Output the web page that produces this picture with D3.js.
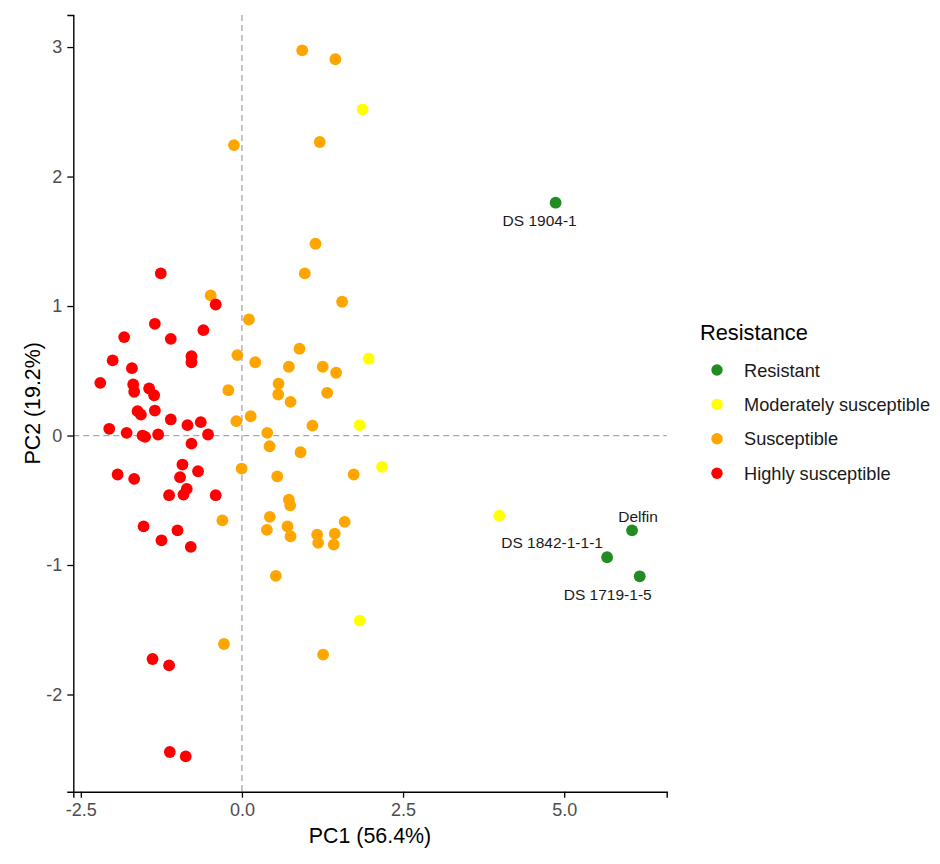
<!DOCTYPE html>
<html lang="en">
  <meta charset="utf-8">
  <title>PCA - Resistance</title>

  <style>
  body {
    margin: 0px;
    background: white;
  }
  #chartDiv {
    position: absolute;
    left: 0px;
    top: 0px;
    width: 940px;
    height: 864px;
  }
  text {
    font-family: "Liberation Sans", Arial, sans-serif;
  }
  </style>

  <body>
  <div id="chartDiv"></div>

    <script src="https://cdn.jsdelivr.net/npm/d3@7"></script>

    <script>
      // Resistance classes, in legend order, with their colours.
      var groups = ["Resistant", "Moderately susceptible", "Susceptible", "Highly susceptible"];
      var groupColors = ["#228B22", "#FFFF00", "#FFA500", "#FF0000"];

      // Scores: [PC1, PC2]
      var resistant = [[4.867, 1.798], [6.053, -0.732], [5.666, -0.940], [6.172, -1.087]];
      var resistantNames = ["DS 1904-1", "Delfin", "DS 1842-1-1-1", "DS 1719-1-5"];

      var moderate = [[1.873, 2.519], [1.966, 0.593], [1.827, 0.080], [2.173, -0.242],
        [1.827, -1.430], [3.994, -0.618]];

      var susceptible = [[-0.485, 1.082], [0.108, 0.896], [-0.071, 0.621], [0.207, 0.566],
        [0.893, 0.670], [0.728, 0.531], [-0.211, 0.350], [0.568, 0.400], [0.563, 0.317],
        [0.754, 0.260], [-0.087, 0.111], [0.135, 0.149], [1.094, 0.077], [0.393, 0.021],
        [0.429, -0.083], [0.909, -0.129], [-0.005, -0.255], [0.548, -0.315], [0.728, -0.495],
        [0.749, -0.539], [-0.303, -0.655], [0.433, -0.628], [0.387, -0.729], [0.707, -0.701],
        [0.754, -0.778], [0.526, -1.084], [1.554, 1.033], [1.254, 0.531], [1.461, 0.485],
        [1.322, 0.330], [1.734, -0.301], [1.594, -0.667], [1.167, -0.765], [1.183, -0.829],
        [1.440, -0.757], [1.424, -0.842], [0.935, 2.975], [1.450, 2.906], [-0.124, 2.243],
        [1.207, 2.267], [1.141, 1.481], [0.975, 1.252], [-0.279, -1.610], [1.260, -1.692]];

      var highly = [[-1.259, 1.252], [-0.407, 1.012], [-1.351, 0.863], [-1.827, 0.760],
        [-1.104, 0.747], [-0.598, 0.814], [-2.006, 0.580], [-0.783, 0.613], [-0.783, 0.566],
        [-1.707, 0.520], [-2.198, 0.407], [-1.687, 0.394], [-1.672, 0.338], [-1.440, 0.363],
        [-1.362, 0.311], [-1.619, 0.188], [-1.568, 0.162], [-1.351, 0.193], [-1.104, 0.124],
        [-0.845, 0.080], [-0.639, 0.103], [-2.059, 0.052], [-1.789, 0.021], [-1.542, 0.000],
        [-1.502, -0.010], [-1.300, 0.008], [-0.526, 0.008], [-0.783, -0.062], [-0.923, -0.224],
        [-0.681, -0.276], [-1.929, -0.301], [-1.672, -0.335], [-0.960, -0.322], [-0.856, -0.412],
        [-0.907, -0.456], [-1.130, -0.461], [-0.407, -0.461], [-1.526, -0.701], [-1.000, -0.732],
        [-1.248, -0.809], [-0.794, -0.860], [-1.387, -1.726], [-1.130, -1.775], [-1.119, -2.444],
        [-0.872, -2.478]];

      var xTicks = [-2.5, 0, 2.5, 5];
      var yTicks = [-2, -1, 0, 1, 2, 3];
      var xTitle = "PC1 (56.4%)";
      var yTitle = "PC2 (19.2%)";
      var legendTitle = "Resistance";

      // Label placement next to the named points (pixels, like ggrepel left them).
      var labelNudge = [[-16, 23], [6, -8], [-55, -9], [-32, 24]];

      // Build the rows in the order ggplot draws them.
      var series = [resistant, moderate, susceptible, highly];
      var points = [];
      series.forEach(function(s, gi) {
        s.forEach(function(p) { points.push({ x: p[0], y: p[1], g: gi }); });
      });

      var svg = d3.select("#chartDiv").append("svg")
        .attr("width", 940).attr("height", 864);

      // Plot panel edges (window.top is taken, so prefix these).
      var panelLeft = 73.3, panelRight = 666.7, panelTop = 15, panelBottom = 791.7;

      // 5% expansion like ggplot's default.
      function expand(ext) {
        var pad = (ext[1] - ext[0]) * 0.05;
        return [ext[0] - pad, ext[1] + pad];
      }
      var x = d3.scaleLinear()
        .domain(expand(d3.extent(points, function(d) { return d.x; })))
        .range([panelLeft, panelRight]);
      var y = d3.scaleLinear()
        .domain(expand(d3.extent(points, function(d) { return d.y; })))
        .range([panelBottom, panelTop]);
      var color = d3.scaleOrdinal().domain(d3.range(groups.length)).range(groupColors);

      // Dashed reference lines through the origin.
      svg.append("line")
        .attr("x1", x(0)).attr("x2", x(0)).attr("y1", panelTop).attr("y2", panelBottom)
        .attr("stroke", "#a6a6a6").attr("stroke-width", 1.3).attr("stroke-dasharray", "6,4");
      svg.append("line")
        .attr("x1", panelLeft).attr("x2", panelRight).attr("y1", y(0)).attr("y2", y(0))
        .attr("stroke", "#a6a6a6").attr("stroke-width", 1.3).attr("stroke-dasharray", "6,4");

      // Axes.
      var xAxis = svg.append("g")
        .attr("transform", "translate(0," + panelBottom + ")")
        .call(d3.axisBottom(x).tickValues(xTicks).tickSize(6).tickPadding(6)
          .tickFormat(d3.format(".1f")));
      var yAxis = svg.append("g")
        .attr("transform", "translate(" + panelLeft + ",0)")
        .call(d3.axisLeft(y).tickValues(yTicks).tickSize(6).tickPadding(5)
          .tickFormat(d3.format("d")));

      [xAxis, yAxis].forEach(function(a) {
        a.select(".domain").attr("stroke", "#000").attr("stroke-width", 1.4);
        a.selectAll(".tick line").attr("stroke", "#000").attr("stroke-width", 1.3);
        a.selectAll(".tick text").attr("fill", "#4d4d4d")
          .style("font-size", "18px").style("font-family", "'Liberation Sans', Arial, sans-serif");
      });
      // R prints a plain hyphen, not the unicode minus.
      xAxis.selectAll(".tick text").text(function(d) { return d3.format(".1f")(d).replace("\u2212", "-"); });
      yAxis.selectAll(".tick text").text(function(d) { return String(d); });

      // Points.
      svg.append("g").selectAll("circle")
        .data(points)
        .enter().append("circle")
        .attr("cx", function(d) { return x(d.x); })
        .attr("cy", function(d) { return y(d.y); })
        .attr("r", 5.9)
        .attr("fill", function(d) { return color(d.g); });

      // Names of the resistant lines.
      svg.append("g").selectAll("text")
        .data(resistant)
        .enter().append("text")
        .attr("x", function(d, i) { return x(d[0]) + labelNudge[i][0]; })
        .attr("y", function(d, i) { return y(d[1]) + labelNudge[i][1]; })
        .attr("text-anchor", "middle")
        .attr("fill", "#1a1a1a")
        .style("font-size", "15.5px")
        .text(function(d, i) { return resistantNames[i]; });

      // Axis titles.
      svg.append("text")
        .attr("x", (panelLeft + panelRight) / 2).attr("y", 843)
        .attr("text-anchor", "middle")
        .style("font-size", "21.4px")
        .text(xTitle);
      svg.append("text")
        .attr("transform", "translate(40," + ((panelTop + panelBottom) / 2) + ") rotate(-90)")
        .attr("text-anchor", "middle")
        .style("font-size", "21.4px")
        .text(yTitle);

      // Legend.
      var legend = svg.append("g").attr("transform", "translate(700,0)");
      legend.append("text")
        .attr("x", 0).attr("y", 340)
        .style("font-size", "21.8px")
        .text(legendTitle);
      var keys = legend.selectAll("g.key")
        .data(groups)
        .enter().append("g")
        .attr("class", "key")
        .attr("transform", function(d, i) { return "translate(0," + (370 + i * 34.4) + ")"; });
      keys.append("circle")
        .attr("cx", 17).attr("cy", 0).attr("r", 5.7)
        .attr("fill", function(d, i) { return color(i); });
      keys.append("text")
        .attr("x", 44).attr("y", 6.5)
        .attr("fill", "#1a1a1a")
        .style("font-size", "18.2px")
        .text(function(d) { return d; });
    </script>
  </body>
</html>
